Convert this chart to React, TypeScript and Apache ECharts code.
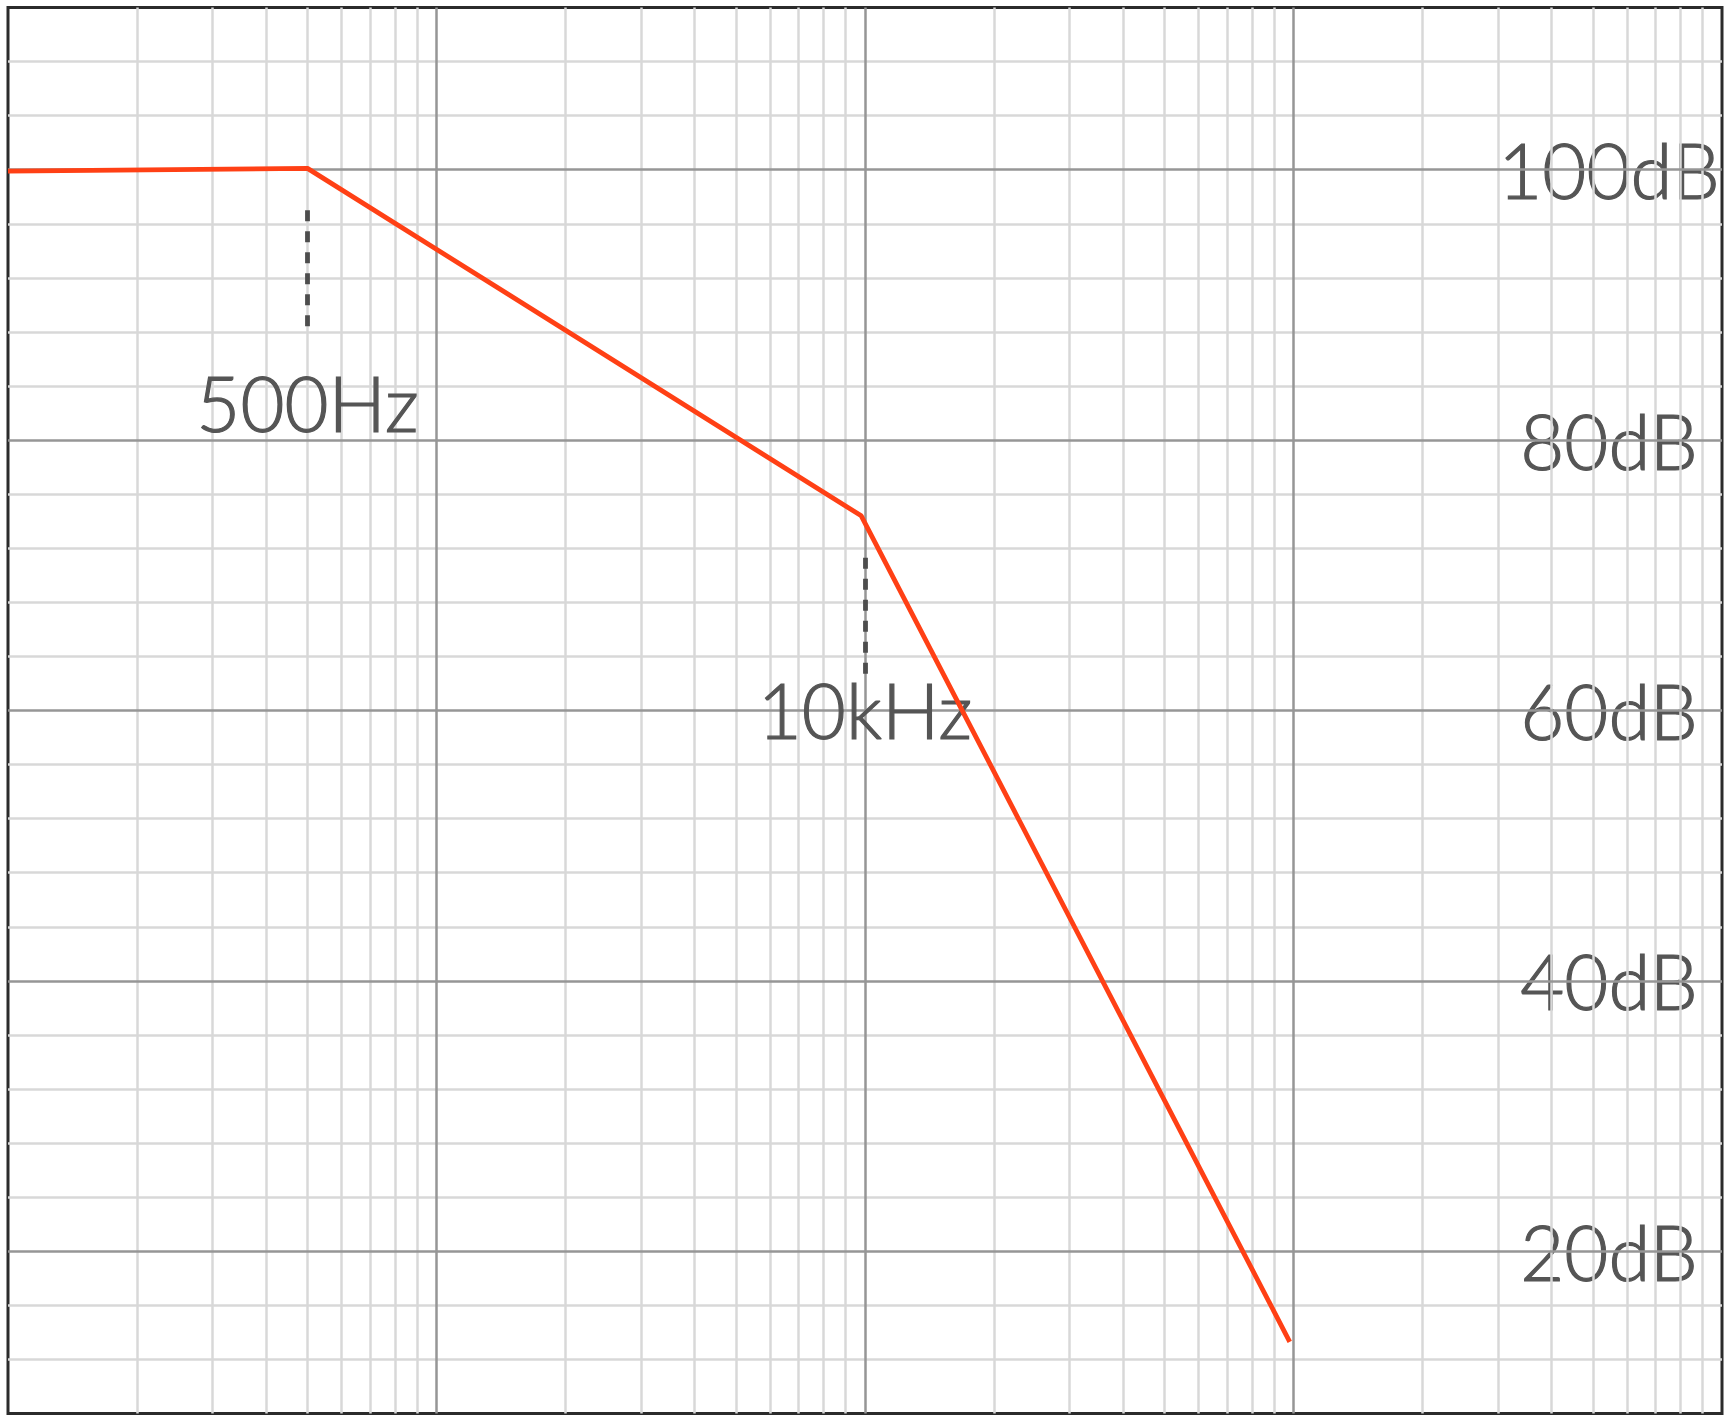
import React, { useEffect, useRef } from "react";
import * as echarts from "echarts";

// Response curve (frequency in Hz, gain in dB)
const freqs = [100, 500, 9800, 98000];
const gainDb = [99.9, 100.1, 74.4, 13.3];

// Grid lines
const decadeStarts = [100, 1000, 10000, 100000];
const minorMultipliers = [2, 3, 4, 5, 6, 7, 8, 9];
const majorFreqLines = [1000, 10000, 100000];
const majorDbLines = [20, 40, 60, 80, 100];
const minorDbLines = [12, 16, 24, 28, 32, 36, 44, 48, 52, 56, 64, 68, 72, 76, 84, 88, 92, 96, 104, 108];
const dbTickLabels = ["20dB", "40dB", "60dB", "80dB", "100dB"];

// Corner-frequency annotations
const markerFreqs = [500, 10000];
const markerNames = ["500Hz", "10kHz"];
const markerDashTopDb = [97, 71.3];
const markerDashBottomDb = [88.2, 62.7];
const markerLabelDb = [82.8, 60.1];

const FONT = "Lato, 'Open Sans', sans-serif";
const TEXT_COLOR = "#555555";

export default function App() {
  const ref = useRef<HTMLDivElement>(null);

  useEffect(() => {
    if (!ref.current) return;
    const chart = echarts.init(ref.current, null, { renderer: "svg" });

    const minorFreqs: number[] = [];
    decadeStarts.forEach((d) => minorMultipliers.forEach((m) => minorFreqs.push(d * m)));

    const gridLineSeries = (name: string, color: string, width: number, xs: number[], ys: number[], z: number) => ({
      name,
      type: "line",
      data: [],
      silent: true,
      z,
      markLine: {
        silent: true,
        animation: false,
        symbol: ["none", "none"],
        label: { show: false },
        emphasis: { disabled: true },
        lineStyle: { color, width, type: "solid" },
        data: [...xs.map((x) => ({ xAxis: x })), ...ys.map((y) => ({ yAxis: y }))],
      },
    });

    const textStyle = {
      fontSize: 76,
      fontFamily: FONT,
      fontWeight: 300,
      color: TEXT_COLOR,
      textBorderColor: TEXT_COLOR,
      textBorderWidth: 1.2,
    };

    const option: any = {
      animation: false,
      backgroundColor: "#ffffff",
      grid: {
        left: 8,
        top: 7.5,
        width: 1714,
        height: 1406,
        show: true,
        borderColor: "#2b2b2b",
        borderWidth: 3,
        backgroundColor: "#ffffff",
        containLabel: false,
      },
      xAxis: {
        type: "log",
        logBase: 10,
        min: 100,
        max: 1000000,
        axisLine: { show: false },
        axisTick: { show: false },
        axisLabel: { show: false },
        splitLine: { show: false },
        minorSplitLine: { show: false },
      },
      yAxis: {
        type: "value",
        position: "right",
        min: 8,
        max: 112,
        interval: 4,
        axisLine: { show: false },
        axisTick: { show: false },
        splitLine: { show: false },
        axisLabel: {
          inside: true,
          align: "center",
          margin: 113,
          ...textStyle,
          formatter: (v: number) => {
            const i = majorDbLines.indexOf(Math.round(v));
            return i >= 0 ? dbTickLabels[i] : "";
          },
        },
      },
      series: [
        gridLineSeries("minorGrid", "#d8d8d8", 2.5, minorFreqs, minorDbLines, 1),
        gridLineSeries("majorGrid", "#969696", 2.5, majorFreqLines, majorDbLines, 2),
        {
          name: "response",
          type: "line",
          data: freqs.map((f, i) => [f, gainDb[i]]),
          showSymbol: false,
          symbol: "none",
          z: 5,
          lineStyle: { color: "#ff4015", width: 4.8 },
          markLine: {
            silent: true,
            animation: false,
            symbol: ["none", "none"],
            label: { show: false },
            emphasis: { disabled: true },
            lineStyle: { color: "#4d4d4d", width: 4.8, type: [11, 10] },
            data: markerFreqs.map((f, i) => [
              { coord: [f, markerDashTopDb[i]] },
              { coord: [f, markerDashBottomDb[i]] },
            ]),
          },
          markPoint: {
            silent: true,
            animation: false,
            symbol: "circle",
            symbolSize: 1,
            itemStyle: { color: "rgba(0,0,0,0)" },
            label: {
              show: true,
              position: "inside",
              formatter: (p: any) => p.name,
              ...textStyle,
            },
            data: markerFreqs.map((f, i) => ({ name: markerNames[i], coord: [f, markerLabelDb[i]] })),
          },
        },
      ],
    };

    chart.setOption(option);
    return () => chart.dispose();
  }, []);

  return (
    <div
      ref={ref}
      style={{ position: "absolute", left: 0, top: 0, width: 1736, height: 1415, background: "#fff" }}
    />
  );
}
